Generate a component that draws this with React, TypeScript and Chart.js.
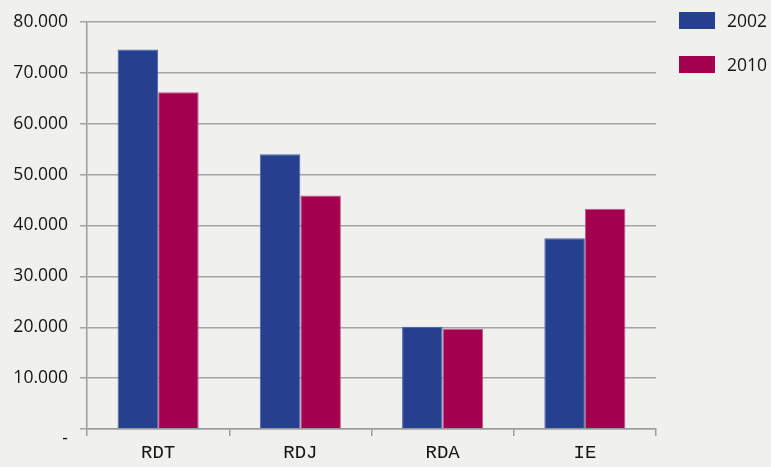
import React, { useEffect, useRef } from "react";
import { Chart, registerables } from "chart.js";

Chart.register(...registerables);

const categories = ["RDT", "RDJ", "RDA", "IE"];
const seriesNames = ["2002", "2010"];
const values2002 = [74600, 54000, 20100, 37500];
const values2010 = [66200, 45900, 19700, 43300];
const seriesColors = ["#24408e", "#a30050"];
const seriesBorders = ["#4d63a6", "#c2588c"];

const FONT = "'Open Sans', 'DejaVu Sans', sans-serif";
const XFONT = "'Liberation Mono', 'DejaVu Sans Mono', monospace";
const TEXT = "#141414";
const BG = "#f0f0ee";

function fmt(v: number): string | string[] {
  if (v === 0) return ["", "-"];
  return String(Math.round(v)).replace(/\B(?=(\d{3})+(?!\d))/g, ".");
}

export default function App() {
  const ref = useRef<HTMLCanvasElement | null>(null);

  useEffect(() => {
    document.body.style.margin = "0";
    document.body.style.background = BG;
    const canvas = ref.current;
    if (!canvas) return;
    const chart = new Chart(canvas, {
      type: "bar",
      data: {
        labels: categories,
        datasets: [
          {
            label: seriesNames[0],
            data: values2002,
            backgroundColor: seriesColors[0],
            borderColor: seriesBorders[0],
            borderWidth: 1,
          },
          {
            label: seriesNames[1],
            data: values2010,
            backgroundColor: seriesColors[1],
            borderColor: seriesBorders[1],
            borderWidth: 1,
          },
        ],
      },
      options: {
        responsive: false,
        animation: false,
        layout: { padding: { top: 22, right: 115, bottom: 0, left: 0 } },
        plugins: {
          legend: { display: false },
          tooltip: { enabled: false },
        },
        datasets: {
          bar: { categoryPercentage: 0.57, barPercentage: 1.0 },
        },
        scales: {
          x: {
            grid: {
              display: true,
              drawOnChartArea: false,
              drawTicks: true,
              tickLength: 7,
              offset: true,
              color: "#9c9c9c",
              lineWidth: 1.5,
            },
            border: { display: true, color: "#9c9c9c", width: 1.5 },
            ticks: {
              color: TEXT,
              font: { family: XFONT, size: 19 },
              padding: 6,
            },
            afterFit(scale: any) {
              scale.height = 38;
            },
          },
          y: {
            min: 0,
            max: 80000,
            grid: {
              color: "#a4a4a4",
              lineWidth: 1.5,
              drawTicks: true,
              tickLength: 7,
            },
            border: { display: true, color: "#9c9c9c", width: 1.5 },
            ticks: {
              stepSize: 10000,
              color: TEXT,
              font: { family: FONT, size: 17.5, lineHeight: 1.1 },
              padding: 12,
              callback: (v: any) => fmt(Number(v)),
            },
            afterFit(scale: any) {
              scale.width = 87;
            },
          },
        },
      },
    });
    return () => chart.destroy();
  }, []);

  return (
    <div style={{ position: "relative", width: 771, height: 467, background: BG }}>
      <canvas ref={ref} width={771} height={467} style={{ display: "block" }} />
      <div style={{ position: "absolute", left: 679, top: 12 }}>
        {seriesNames.map((name, i) => (
          <div
            key={name}
            style={{
              display: "flex",
              alignItems: "center",
              height: 17,
              marginBottom: 27,
              fontFamily: FONT,
              fontSize: 17.5,
              color: TEXT,
            }}
          >
            <span
              style={{
                display: "inline-block",
                width: 36,
                height: 17,
                background: seriesColors[i],
                marginRight: 12,
              }}
            />
            <span style={{ lineHeight: "17px" }}>{name}</span>
          </div>
        ))}
      </div>
    </div>
  );
}
